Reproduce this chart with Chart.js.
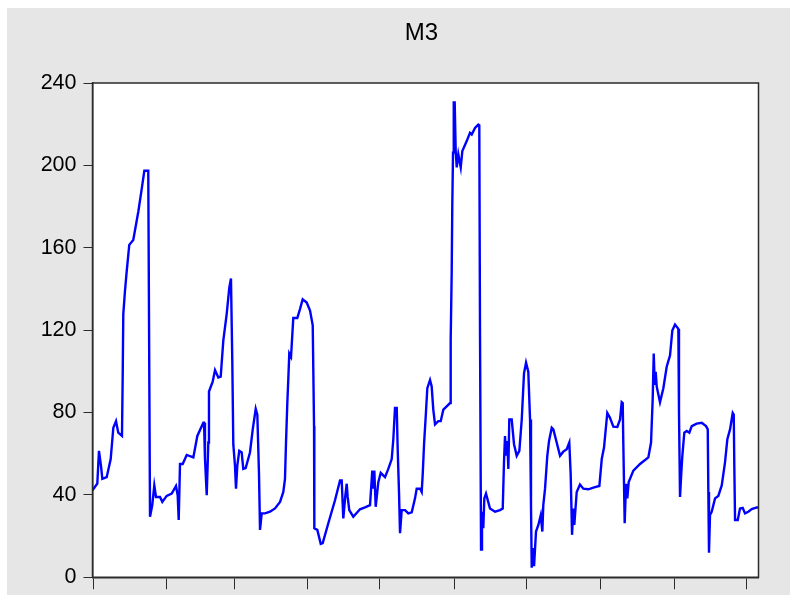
<!DOCTYPE html>
<html>
<head>
<meta charset="utf-8">
<script src="https://cdn.jsdelivr.net/npm/chart.js@4/dist/chart.umd.min.js"></script>
<style>
  html, body { margin: 0; padding: 0; background: #ffffff; }
  #frame { position: absolute; left: 7px; top: 8px; width: 783px; height: 587px; background: #e6e6e6; }
  #myChart { display: block; }
</style>
</head>
<body>
<div id="frame"><canvas id="myChart" width="783" height="587"></canvas></div>
<script>
// time in years from the start of the sample, and the M3 value there
const years = [
  0.000, 0.066, 0.089, 0.117, 0.135, 0.195, 0.250, 0.286, 0.323, 0.354,
  0.405, 0.415, 0.423, 0.446, 0.470, 0.505, 0.560, 0.629, 0.676, 0.712,
  0.766, 0.790, 0.821, 0.849, 0.872, 0.927, 0.959, 1.019, 1.088, 1.147,
  1.170, 1.184, 1.202, 1.239, 1.294, 1.385, 1.440, 1.522, 1.532, 1.545,
  1.569, 1.591, 1.600, 1.651, 1.683, 1.728, 1.761, 1.797, 1.843, 1.879,
  1.902, 1.920, 1.934, 1.957, 1.971, 1.989, 2.016, 2.049, 2.071, 2.104,
  2.163, 2.201, 2.242, 2.264, 2.287, 2.301, 2.324, 2.370, 2.438, 2.507,
  2.576, 2.621, 2.644, 2.658, 2.676, 2.690, 2.703, 2.727, 2.758, 2.813,
  2.850, 2.887, 2.942, 2.988, 3.025, 3.043, 3.047, 3.088, 3.135, 3.162,
  3.239, 3.331, 3.400, 3.423, 3.445, 3.473, 3.492, 3.505, 3.527, 3.582,
  3.674, 3.743, 3.812, 3.843, 3.857, 3.871, 3.890, 3.926, 3.959, 4.018,
  4.063, 4.110, 4.132, 4.155, 4.179, 4.192, 4.210, 4.224, 4.247, 4.293,
  4.338, 4.385, 4.430, 4.453, 4.499, 4.522, 4.536, 4.554, 4.577, 4.599,
  4.636, 4.659, 4.681, 4.705, 4.750, 4.783, 4.819, 4.865, 4.911, 4.920,
  4.934, 4.942, 4.952, 4.962, 4.975, 4.989, 5.003, 5.025, 5.058, 5.080,
  5.140, 5.185, 5.209, 5.254, 5.299, 5.313, 5.323, 5.337, 5.350, 5.368,
  5.382, 5.405, 5.460, 5.529, 5.598, 5.635, 5.652, 5.666, 5.680, 5.698,
  5.712, 5.725, 5.758, 5.790, 5.827, 5.863, 5.896, 5.927, 5.955, 5.986,
  6.010, 6.023, 6.033, 6.055, 6.065, 6.092, 6.124, 6.157, 6.179, 6.192,
  6.216, 6.247, 6.271, 6.308, 6.330, 6.376, 6.422, 6.467, 6.514, 6.549,
  6.568, 6.587, 6.604, 6.618, 6.651, 6.696, 6.742, 6.810, 6.902, 6.962,
  6.995, 7.026, 7.071, 7.108, 7.154, 7.209, 7.246, 7.269, 7.283, 7.291,
  7.310, 7.328, 7.346, 7.365, 7.429, 7.521, 7.635, 7.672, 7.695, 7.709,
  7.723, 7.736, 7.750, 7.795, 7.841, 7.887, 7.933, 7.964, 8.001, 8.047,
  8.056, 8.070, 8.088, 8.102, 8.129, 8.162, 8.198, 8.231, 8.299, 8.368,
  8.427, 8.451, 8.459, 8.468, 8.482, 8.505, 8.551, 8.596, 8.643, 8.688,
  8.720, 8.757, 8.794, 8.808, 8.816, 8.826, 8.863, 8.894, 8.931, 8.963,
  9.008, 9.055, 9.124, 9.146
];
const m3 = [
  42.2, 45.5, 61.4, 54.0, 47.8, 48.6, 57.4, 72.6, 75.8, 70.2,
  68.6, 98.2, 127.8, 139.0, 148.6, 161.4, 163.8, 177.5, 188.6, 197.4,
  197.4, 29.4, 35.0, 44.6, 39.0, 39.0, 36.6, 39.5, 40.6, 44.3,
  39.8, 27.8, 55.0, 55.0, 59.4, 58.2, 68.6, 75.0, 75.0, 57.6,
  39.8, 65.4, 90.2, 95.0, 100.6, 97.0, 97.4, 115.0, 127.8, 140.6,
  145.1, 105.5, 64.6, 54.2, 43.0, 54.2, 61.4, 60.6, 52.6, 53.0,
  60.6, 71.8, 81.8, 79.0, 50.2, 23.0, 31.0, 31.0, 31.8, 33.4,
  36.6, 41.4, 47.8, 65.4, 84.6, 96.6, 108.6, 107.0, 125.9, 125.9,
  130.2, 135.0, 133.4, 129.5, 122.3, 73.4, 23.8, 23.0, 16.2, 16.6,
  26.2, 37.4, 47.0, 47.0, 28.6, 39.8, 45.4, 39.0, 32.6, 29.4,
  33.0, 33.9, 35.0, 51.8, 43.0, 51.8, 34.2, 46.2, 50.7, 48.6,
  52.6, 57.4, 67.0, 82.2, 82.2, 62.2, 41.4, 21.4, 32.6, 32.6,
  31.0, 31.5, 38.3, 43.0, 43.0, 41.4, 50.2, 64.6, 78.2, 91.8,
  95.8, 92.6, 81.4, 74.2, 75.8, 75.8, 81.4, 83.0, 84.6, 115.0,
  148.6, 180.6, 206.2, 230.6, 230.6, 207.0, 199.0, 205.4, 199.0, 207.0,
  211.8, 215.8, 215.0, 218.2, 219.8, 219.4, 116.6, 13.4, 31.8, 23.8,
  38.3, 40.6, 33.4, 31.8, 32.6, 33.4, 55.8, 68.6, 59.0, 66.2,
  52.6, 76.6, 76.6, 64.6, 59.0, 61.4, 76.6, 99.0, 104.2, 99.8,
  76.6, 35.0, 4.6, 14.2, 5.4, 22.2, 25.4, 30.2, 22.2, 35.0,
  43.0, 59.0, 66.2, 72.6, 71.8, 65.4, 59.0, 61.0, 62.2, 65.4,
  50.2, 20.6, 33.4, 25.4, 41.4, 45.0, 43.0, 42.7, 43.8, 44.3,
  57.4, 63.0, 79.8, 77.4, 73.1, 73.0, 76.6, 85.0, 84.6, 65.4,
  26.2, 45.4, 38.3, 46.2, 51.8, 55.0, 58.2, 65.4, 87.0, 108.6,
  93.4, 99.8, 92.6, 85.0, 91.8, 102.2, 107.8, 119.8, 122.7, 120.6,
  79.8, 39.0, 51.0, 59.0, 70.2, 71.0, 70.2, 73.4, 74.6, 75.0,
  73.4, 71.8, 41.4, 11.9, 30.2, 31.8, 38.3, 39.5, 44.6, 55.8,
  67.0, 71.8, 79.8, 79.0, 53.4, 27.8, 27.8, 33.4, 33.7, 31.0,
  31.8, 33.1, 33.9, 33.9
];
// positions of the bottom tick marks (years) and the y range
const xTickYears = [0.007, 1.019, 1.944, 2.96, 3.949, 4.979, 5.964, 6.978, 7.995, 8.984];
const xEnd = 9.148;
const yMin = 0;
const yMax = 240;
const yStep = 40;

const ctx = document.getElementById('myChart');

const plotFrame = {
    id: 'plotFrame',
    afterLayout(chart) {
        // centre the title over the plot area, not the whole canvas
        if (chart.titleBlock) {
            chart.titleBlock.left = chart.chartArea.left - 4;
            chart.titleBlock.right = chart.chartArea.right - 4;
        }
    },
    beforeDraw(chart) {
        const a = chart.chartArea;
        const c = chart.ctx;
        c.save();
        c.fillStyle = '#ffffff';
        c.fillRect(a.left, a.top, a.right - a.left, a.bottom - a.top);
        c.restore();
    },
    afterDraw(chart) {
        const a = chart.chartArea;
        const c = chart.ctx;
        c.save();
        c.strokeStyle = '#2b2b2b';
        c.lineWidth = 1.5;
        c.strokeRect(a.left, a.top, a.right - a.left, a.bottom - a.top);
        c.restore();
    }
};

new Chart(ctx, {
    type: 'line',
    data: {
        datasets: [{
            label: 'M3',
            data: years.map((t, i) => ({x: t, y: m3[i]})),
            borderColor: '#0000ff',
            borderWidth: 2.4,
            pointRadius: 0,
            tension: 0,
            fill: false
        }]
    },
    plugins: [plotFrame],
    options: {
        responsive: false,
        animation: false,
        layout: { padding: { left: 0, right: 31.5, top: 0, bottom: 0 } },
        plugins: {
            legend: { display: false },
            tooltip: { enabled: false },
            title: {
                display: true,
                text: 'M3',
                color: '#000000',
                font: { family: '"Liberation Sans", Arial, sans-serif', size: 24, weight: 'normal', lineHeight: 1.2 },
                padding: { top: 11, bottom: 35.2 }
            }
        },
        scales: {
            x: {
                type: 'linear',
                min: 0,
                max: xEnd,
                afterBuildTicks: axis => { axis.ticks = xTickYears.map(v => ({value: v})); },
                ticks: { display: false },
                grid: { drawOnChartArea: false, drawTicks: true, tickLength: 12, color: '#2b2b2b', lineWidth: 1 },
                border: { display: true, color: '#2b2b2b', width: 1.5 }
            },
            y: {
                min: yMin,
                max: yMax,
                afterFit: axis => { axis.width = 85.5; },
                ticks: {
                    stepSize: yStep,
                    padding: 7,
                    color: '#000000',
                    font: { family: '"Liberation Sans", Arial, sans-serif', size: 21.5, lineHeight: 1 }
                },
                grid: { drawOnChartArea: false, drawTicks: true, tickLength: 9, color: '#2b2b2b', lineWidth: 1 },
                border: { display: true, color: '#2b2b2b', width: 1.5 }
            }
        }
    }
});
</script>
</body>
</html>
